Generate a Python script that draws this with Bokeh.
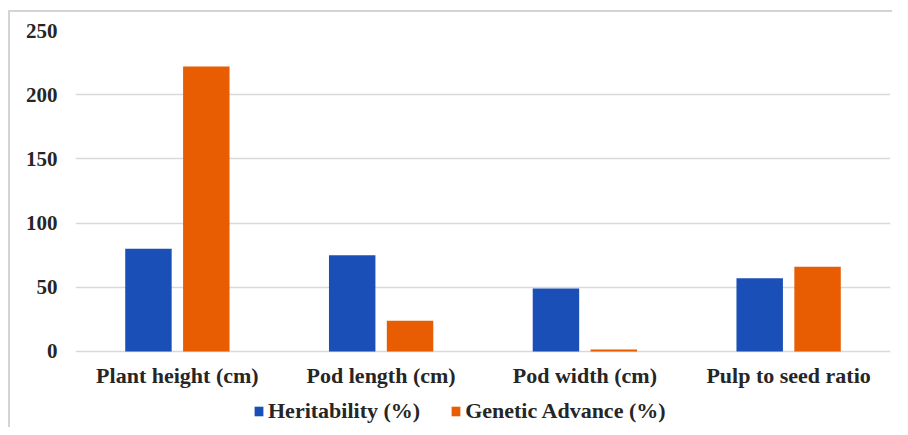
from bokeh.plotting import figure
from bokeh.models import ColumnDataSource, FactorRange, Legend, LegendItem, FixedTicker, LabelSet
from bokeh.transform import dodge
from bokeh.embed import file_html
from bokeh.resources import INLINE

categories = ["Plant height (cm)", "Pod length (cm)", "Pod width (cm)", "Pulp to seed ratio"]
heritability = [80, 75, 49, 57]
genetic_advance = [222, 24, 1.5, 66]
y_ticks = [0, 50, 100, 150, 200, 250]

BLUE = "#1a4fb8"
ORANGE = "#e85d02"
FONT = "Liberation Serif"
TEXT = "#262626"

# frame extends below zero to hold category labels and legend
Y_MIN = -59.2
LABEL_Y = -18.7

src = ColumnDataSource(dict(cat=categories, h=heritability, g=genetic_advance,
                            ly=[LABEL_Y] * len(categories)))

p = figure(x_range=FactorRange(*categories, range_padding=0), y_range=(Y_MIN, 250),
           frame_width=815, frame_height=397, output_backend="svg", toolbar_location=None,
           x_axis_location=None,
           min_border_left=65, min_border_top=18, min_border_right=2, min_border_bottom=0)

r1 = p.vbar(x=dodge("cat", -0.142, range=p.x_range), top="h", bottom=0, width=0.228,
            source=src, color=BLUE, line_color=None)
r2 = p.vbar(x=dodge("cat", 0.142, range=p.x_range), top="g", bottom=0, width=0.228,
            source=src, color=ORANGE, line_color=None)

p.outline_line_color = None
p.xgrid.grid_line_color = None
p.ygrid.grid_line_color = "#d9d9d9"
p.ygrid.grid_line_width = 1.3
p.yaxis.ticker = FixedTicker(ticks=y_ticks)
ax = p.yaxis[0]
ax.axis_line_color = None
ax.major_tick_line_color = None
ax.minor_tick_line_color = None
ax.major_tick_out = 0
ax.major_tick_in = 0
ax.major_label_text_font = FONT
ax.major_label_text_font_style = "bold"
ax.major_label_text_color = TEXT
ax.major_label_text_font_size = "21px"
ax.major_label_standoff = 18

labels = LabelSet(x="cat", y="ly", text="cat", source=src, text_align="center",
                  text_baseline="middle", text_font=FONT, text_font_style="bold",
                  text_font_size="22px", text_color=TEXT)
p.add_layout(labels)

legend = Legend(items=[LegendItem(label="Heritability (%)", renderers=[r1]),
                       LegendItem(label="Genetic Advance (%)", renderers=[r2])],
                orientation="horizontal", location=(178, 3),
                label_text_font=FONT, label_text_font_style="bold",
                label_text_font_size="22px", label_text_color=TEXT,
                glyph_width=11, glyph_height=12, label_standoff=4, spacing=30,
                border_line_color=None, background_fill_alpha=0, padding=2, margin=0)
p.add_layout(legend, "center")

p.styles = {"border-top": "2px solid #d4d4d4", "border-left": "2px solid #d4d4d4",
            "margin-left": "8px", "margin-top": "10px"}

open("out.html", "w").write(file_html(p, INLINE))
